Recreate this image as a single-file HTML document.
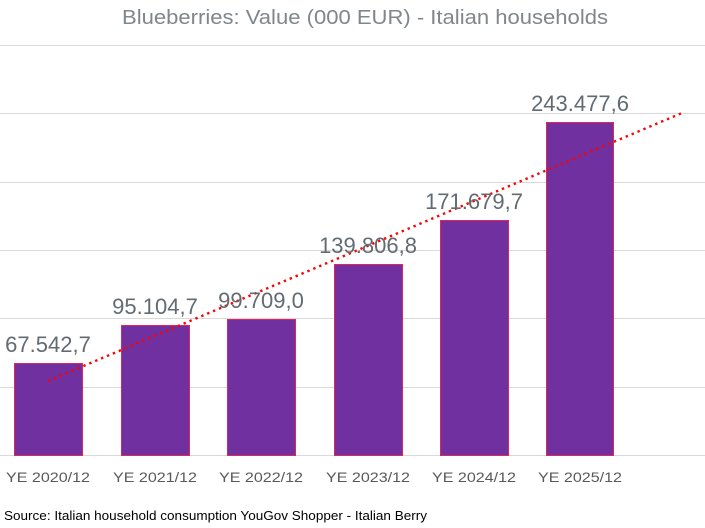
<!DOCTYPE html>
<html><head><style>
body{margin:0;background:#fff;}
svg text{font-family:"Liberation Sans",sans-serif;}
</style></head><body>
<svg width="705" height="523" xmlns="http://www.w3.org/2000/svg">
<rect width="705" height="523" fill="#fff"/>
<text x="122" y="24" font-size="20" fill="#7f878c" textLength="486" lengthAdjust="spacingAndGlyphs">Blueberries: Value (000 EUR) - Italian households</text>
<g stroke="#d9d9d9" stroke-width="1">
<line x1="0" y1="45.5" x2="705" y2="45.5"/>
<line x1="0" y1="113.5" x2="705" y2="113.5"/>
<line x1="0" y1="182.5" x2="705" y2="182.5"/>
<line x1="0" y1="250.5" x2="705" y2="250.5"/>
<line x1="0" y1="318.5" x2="705" y2="318.5"/>
<line x1="0" y1="387.5" x2="705" y2="387.5"/>
<line x1="0" y1="455.5" x2="705" y2="455.5"/>
</g>
<g fill="#7030a0" stroke="#e0245e" stroke-width="1">
<rect x="14.5" y="363.5" width="68" height="92"/>
<rect x="121.5" y="325.5" width="68" height="130"/>
<rect x="227.5" y="319.5" width="68" height="136"/>
<rect x="334.5" y="264.5" width="68" height="191"/>
<rect x="440.5" y="220.5" width="68" height="235"/>
<rect x="546.5" y="122.5" width="67" height="333"/>
</g>
<line x1="48" y1="381" x2="682" y2="113" stroke="#ff0000" stroke-width="2.4" stroke-dasharray="2.4 4" />
<g font-size="22" fill="#626b72" text-anchor="middle">
<text x="48" y="352">67.542,7</text>
<text x="155" y="314">95.104,7</text>
<text x="261" y="308">99.709,0</text>
<text x="368" y="253">139.806,8</text>
<text x="474" y="209">171.679,7</text>
<text x="580" y="111">243.477,6</text>
</g>
<g font-size="14" fill="#595959" text-anchor="middle">
<text x="48" y="482" textLength="84" lengthAdjust="spacingAndGlyphs">YE 2020/12</text>
<text x="155" y="482" textLength="84" lengthAdjust="spacingAndGlyphs">YE 2021/12</text>
<text x="261" y="482" textLength="84" lengthAdjust="spacingAndGlyphs">YE 2022/12</text>
<text x="368" y="482" textLength="84" lengthAdjust="spacingAndGlyphs">YE 2023/12</text>
<text x="474" y="482" textLength="84" lengthAdjust="spacingAndGlyphs">YE 2024/12</text>
<text x="580" y="482" textLength="84" lengthAdjust="spacingAndGlyphs">YE 2025/12</text>
</g>
<text x="4" y="520" font-size="13" fill="#000" textLength="423" lengthAdjust="spacingAndGlyphs">Source: Italian household consumption YouGov Shopper - Italian Berry</text>
</svg>
</body></html>
